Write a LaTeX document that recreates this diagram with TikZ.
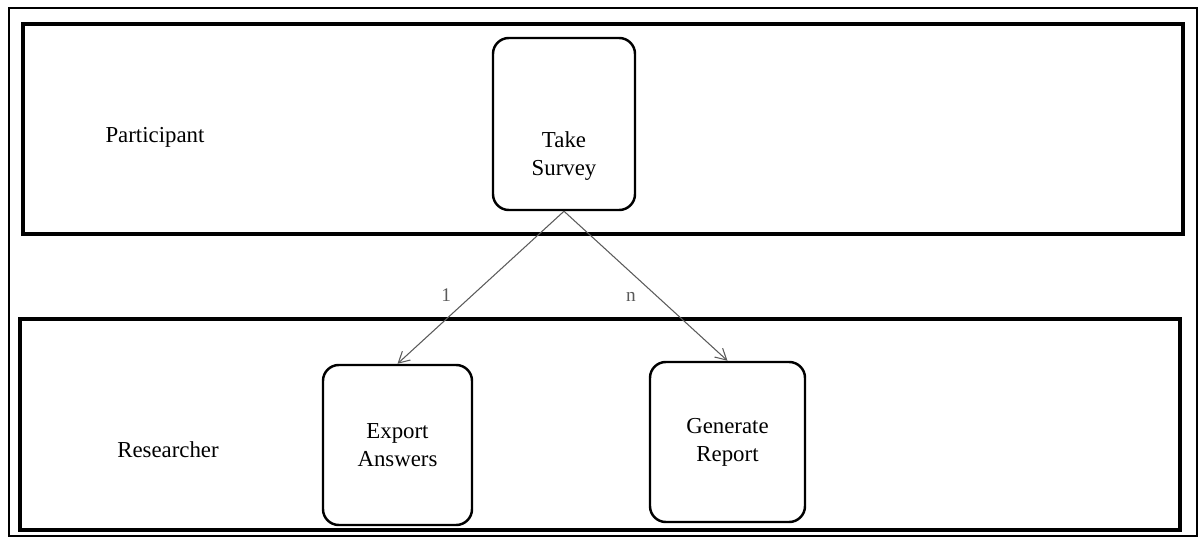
\documentclass[tikz,border=0pt]{standalone}
\usepackage{fontspec}
\setmainfont{Liberation Serif}
\usepackage{tikz}
\usetikzlibrary{arrows.meta,positioning}
\definecolor{linegray}{RGB}{90,90,90}
\tikzset{
  lanebox/.style={draw=black, line width=2pt, minimum width=23.2cm,
    minimum height=4.2cm, inner sep=0pt},
  actbox/.style={draw=black, rounded corners=9pt, line width=1.4pt,
    minimum width=2.9cm, minimum height=3.2cm, align=center,
    font=\fontsize{13}{16}\selectfont},
  lanelabel/.style={font=\fontsize{13}{16}\selectfont},
  flow/.style={-{Straight Barb[length=2.2mm,width=2.4mm]}, draw=linegray, line width=0.6pt},
  mult/.style={font=\fontsize{11}{13}\selectfont, text=linegray}
}

\begin{document}
\begin{tikzpicture}
\useasboundingbox (0,0) rectangle (24.04,10.76);
\draw[line width=1.2pt] (0.18,0.04) rectangle (23.94,10.60);

\node[lanebox] (participant) at (12.06,8.18) {};
\node[lanebox, minimum height=4.22cm] (researcher) at (12.00,2.27) {};
\node[lanelabel] (plabel) at (3.10,8.02) {Participant};
\node[lanelabel] (rlabel) at (3.36,1.76) {Researcher};

% text of this box sits low in the box
\node[actbox, minimum width=2.84cm, minimum height=3.44cm,
  label={[align=center, font=\fontsize{13}{16}\selectfont, yshift=-0.64cm]center:Take\\Survey}]
  (survey) at (11.28,8.28) {};
\node[actbox, minimum width=2.98cm] (export) at (7.95,1.86) {Export\\Answers};
\node[actbox, minimum width=3.1cm] (report) at (14.55,1.92) {Generate\\Report};

\draw[flow] (survey.south) -- node[mult, pos=0.55, left=3mm] {1} (export.north);
\draw[flow] (survey.south) -- node[mult, pos=0.57, left=3mm] {n} (report.north);
\end{tikzpicture}
\end{document}
